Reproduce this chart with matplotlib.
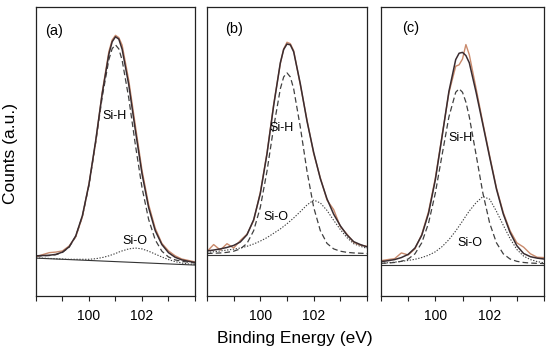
import matplotlib
matplotlib.use("Agg")
import matplotlib.pyplot as plt

plt.rcParams['font.family'] = ['Liberation Sans', 'DejaVu Sans']

# Binding energy grid (eV)
energy = [98.0, 98.25, 98.5, 98.75, 99.0, 99.25, 99.5, 99.75, 100.0, 100.25, 100.5, 100.75,
          100.875, 101.0, 101.125,
          101.25, 101.5, 101.75, 102.0, 102.25, 102.5, 102.75, 103.0, 103.25, 103.5, 103.75, 104.0]

# Panel (a)
raw_a = [13.6, 14.3, 15.0, 15.2, 15.6, 17.3, 20.5, 27.4, 38.9, 53.2, 70.6, 84.6,
         88.6, 90.2, 89.4,
         86.8, 74.6, 58.9, 43.5, 31.6, 23.4, 18.2, 15.6, 13.9, 12.8, 12.3, 11.8]
fit_a = [13.9, 14.0, 14.1, 14.4, 15.2, 17.0, 20.8, 27.8, 38.7, 53.6, 70.1, 83.7,
         88.0, 89.7, 88.9,
         85.4, 73.1, 57.3, 42.3, 30.6, 22.6, 17.8, 15.0, 13.4, 12.5, 12.0, 11.6]
sih_a = [13.8, 13.9, 14.0, 14.3, 15.1, 16.9, 20.6, 27.5, 38.3, 52.9, 68.9, 81.8,
         85.6, 86.9, 85.5,
         81.6, 68.5, 52.3, 37.5, 26.5, 19.4, 15.5, 13.5, 12.5, 12.0, 11.7, 11.4]
sio_a = [13.2, 13.1, 13.0, 12.9, 12.8, 12.7, 12.7, 12.7, 12.7, 12.9, 13.3, 13.9,
         14.3, 14.7, 15.2,
         15.6, 16.3, 16.6, 16.3, 15.5, 14.5, 13.5, 12.6, 11.9, 11.4, 11.1, 10.9]
base_a = [13.1, 10.7]

# Panel (b)
raw_b = [15.4, 17.8, 15.9, 18.1, 16.6, 19.2, 21.4, 26.1, 35.9, 49.5, 66.3, 80.4,
         85.5, 87.8, 87.3,
         84.9, 73.0, 60.9, 49.3, 40.9, 33.2, 29.9, 24.0, 21.4, 18.6, 17.6, 17.2]
fit_b = [15.6, 15.9, 16.3, 16.8, 17.5, 18.7, 21.2, 26.4, 35.5, 49.2, 65.9, 80.7,
         85.3, 87.2, 86.9,
         84.5, 73.4, 60.5, 49.7, 40.6, 33.6, 28.3, 24.3, 21.1, 18.8, 17.8, 17.0]
sih_b = [14.7, 14.8, 14.9, 15.1, 15.5, 16.3, 18.2, 22.6, 30.7, 43.2, 58.4, 71.7,
         75.8, 77.2, 75.8,
         71.7, 58.4, 43.2, 30.7, 22.6, 18.2, 16.3, 15.5, 15.1, 14.9, 14.8, 14.7]
sio_b = [15.1, 15.3, 15.6, 15.9, 16.2, 16.6, 17.2, 18.0, 19.0, 20.2, 21.7, 23.2,
         24.1, 25.0, 26.0,
         27.0, 29.2, 31.5, 33.2, 32.2, 29.6, 26.2, 23.0, 20.2, 18.1, 17.2, 16.5]
base_b = [14.2, 14.2]

# Panel (c)
raw_c = [12.2, 12.6, 12.9, 14.9, 14.2, 16.3, 21.3, 29.2, 40.8, 55.6, 70.3, 79.5,
         80.0, 82.0, 87.0,
         83.5, 71.8, 59.9, 48.5, 37.4, 28.9, 22.6, 18.4, 16.9, 14.6, 13.4, 13.3]
fit_c = [11.9, 12.2, 12.6, 13.3, 14.4, 16.6, 21.0, 28.6, 40.2, 55.3, 70.8, 81.8,
         84.0, 84.3, 83.2,
         80.7, 70.5, 59.3, 48.0, 37.0, 28.4, 22.0, 17.4, 14.7, 13.6, 13.1, 12.8]
sih_c = [11.3, 11.4, 11.6, 12.0, 12.8, 14.6, 18.4, 25.2, 35.6, 48.9, 62.0, 70.5,
         71.7, 70.5, 67.1,
         62.0, 48.9, 35.6, 25.2, 18.4, 14.6, 12.8, 12.0, 11.6, 11.4, 11.3, 11.2]
sio_c = [11.3, 11.5, 11.7, 12.0, 12.3, 12.7, 13.3, 14.1, 15.3, 17.1, 19.5, 22.5,
         24.2, 25.9, 27.7,
         29.4, 32.3, 34.4, 33.5, 29.3, 24.5, 19.9, 16.1, 13.8, 12.6, 11.9, 11.5]
base_c = [10.7, 10.7]

panel_labels = ['(a)', '(b)', '(c)']
tick_values = [98, 99, 100, 101, 102, 103, 104]
tick_labels = ['', '', '100', '', '102', '', '']
xlim = (98, 104)
ylim = (0, 100)

fig = plt.figure(figsize=(5.5, 3.53), dpi=100)
W, H = 550, 353
bottom_px, top_px = 296, 7
panels_px = [(36, 195), (207, 367), (381, 544)]

panels = [
    (raw_a, fit_a, sih_a, sio_a, base_a),
    (raw_b, fit_b, sih_b, sio_b, base_b),
    (raw_c, fit_c, sih_c, sio_c, base_c),
]
label_pos = [(0.113, 0.917), (0.169, 0.924), (0.184, 0.927)]
sih_text = [(100.98, 62.3), (100.81, 58.1), (100.91, 54.7)]
sio_text = [(101.74, 19.0), (100.59, 27.3), (101.28, 18.3)]

raw_color = '#c98a6c'
fit_color = '#3a2c30'
comp_color = '#404040'

for i, ((l, r), (raw, fit, sih, sio, base)) in enumerate(zip(panels_px, panels)):
    ax = fig.add_axes([l / W, (H - bottom_px) / H, (r - l) / W, (bottom_px - top_px) / H])
    ax.plot([xlim[0], xlim[1]], base, color='#333333', lw=0.8)
    ax.plot(energy, sio, color=comp_color, lw=0.8, ls=(0, (1.2, 1.4)))
    ax.plot(energy, sih, color=comp_color, lw=0.9, ls=(0, (4.5, 2.5)))
    ax.plot(energy, raw, color=raw_color, lw=1.0)
    ax.plot(energy, fit, color=fit_color, lw=1.1)
    ax.set_xlim(*xlim)
    ax.set_ylim(*ylim)
    ax.set_xticks(tick_values)
    ax.set_xticklabels(tick_labels)
    ax.set_yticks([])
    ax.tick_params(axis='x', direction='out', length=3.5, width=0.8, pad=6,
                   labelsize=10, colors='#222222', labelcolor='black')
    for sp in ax.spines.values():
        sp.set_linewidth(0.9)
        sp.set_color('#222222')
    ax.text(label_pos[i][0], label_pos[i][1], panel_labels[i], transform=ax.transAxes,
            ha='center', va='center', fontsize=10.5)
    ax.text(sih_text[i][0], sih_text[i][1], 'Si-H', ha='center', va='center', fontsize=9)
    ax.text(sio_text[i][0], sio_text[i][1], 'Si-O', ha='center', va='center', fontsize=9)

fig.text(295 / W, 1 - 339 / H, 'Binding Energy (eV)', ha='center', va='center', fontsize=12.5)
fig.text(11 / W, 1 - 154 / H, 'Counts (a.u.)', ha='center', va='center', rotation=90, fontsize=12.5)

fig.savefig('out.png', dpi=100)
